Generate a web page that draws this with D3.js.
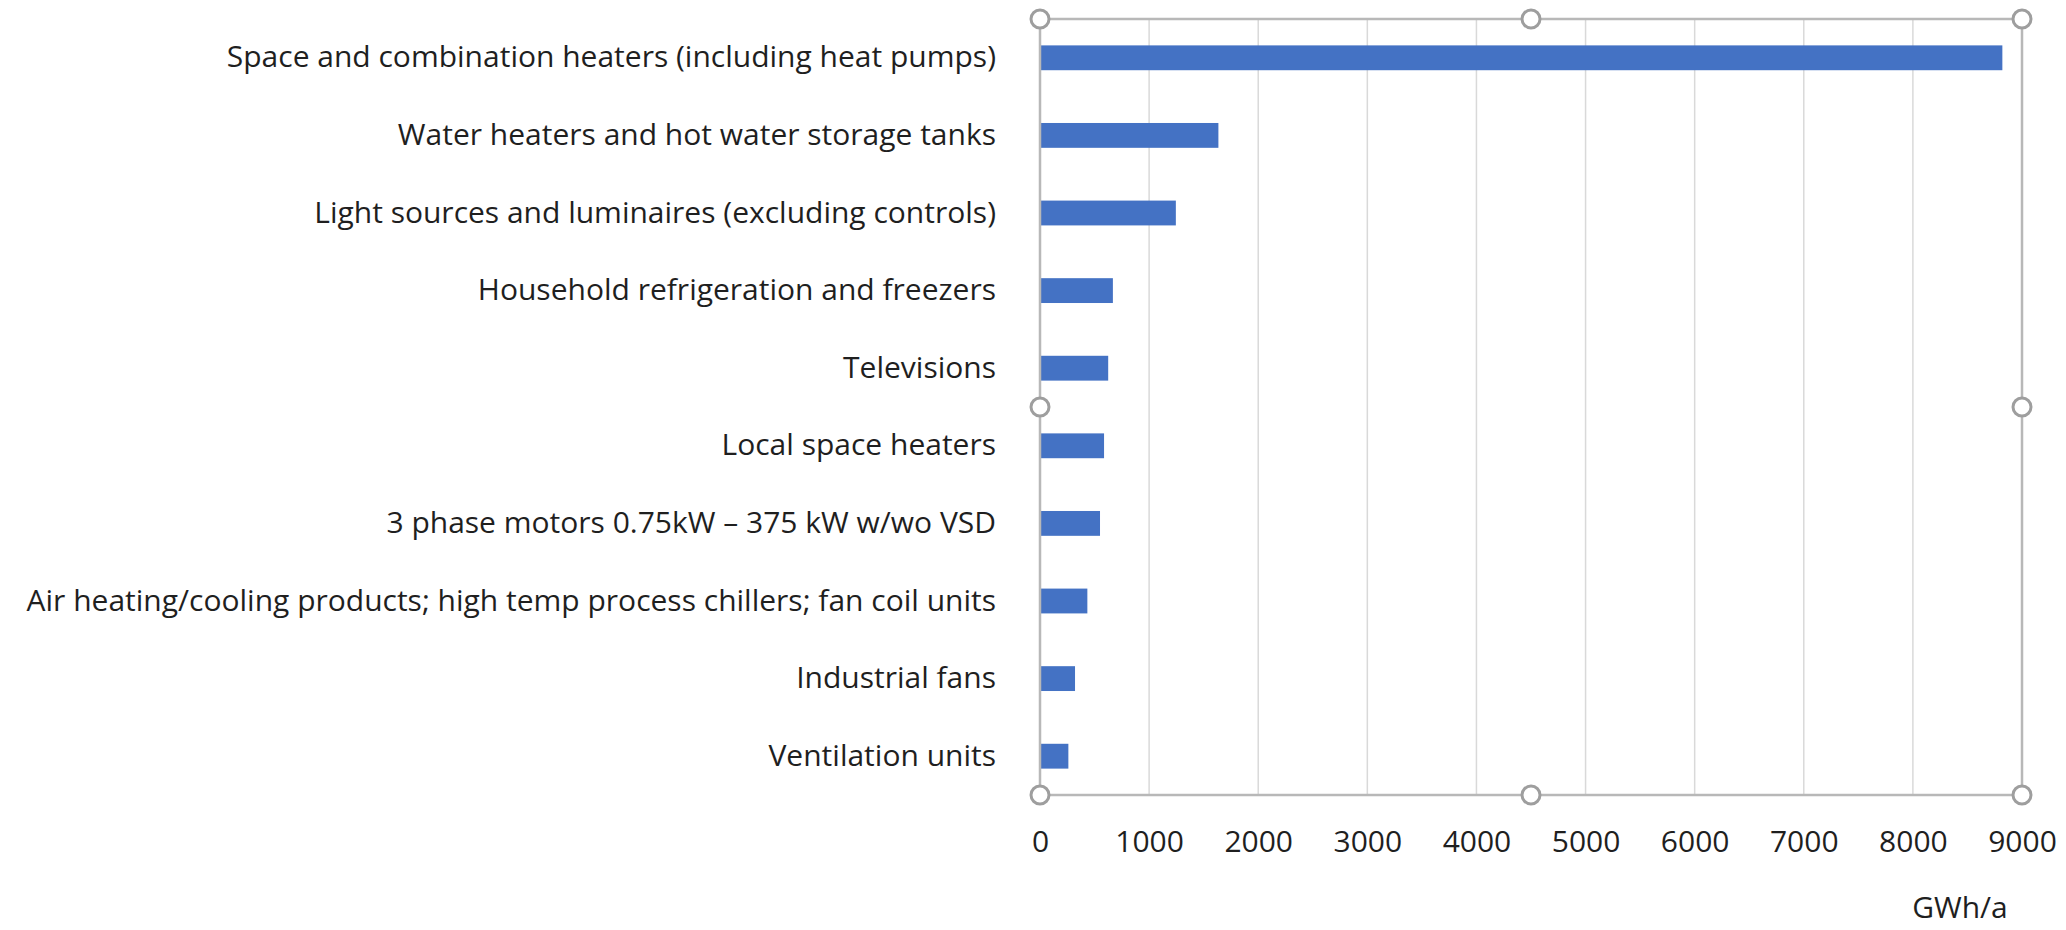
<!DOCTYPE html>
<html>
<head>
<meta charset="utf-8">
<script src="https://cdn.jsdelivr.net/npm/d3@7"></script>
<style>
  body { margin: 0; background: #fff; }
  text { font-family: 'Open Sans', Lato, sans-serif; fill: #1f1f1f; }
</style>
</head>
<body>
<div id="chart"></div>
<script>
const categories = [
  'Space and combination heaters (including heat pumps)',
  'Water heaters and hot water storage tanks',
  'Light sources and luminaires (excluding controls)',
  'Household refrigeration and freezers',
  'Televisions',
  'Local space heaters',
  '3 phase motors 0.75kW \u2013 375 kW w/wo VSD',
  'Air heating/cooling products; high temp process chillers; fan coil units',
  'Industrial fans',
  'Ventilation units'
]
const values = [8820, 1635, 1245, 668, 625, 587, 550, 434, 321, 260]
const xTicks = [0, 1000, 2000, 3000, 4000, 5000, 6000, 7000, 8000, 9000]
const unitLabel = 'GWh/a'

const width = 2066
const height = 930
const margin = { top: 19, right: 44, bottom: 135, left: 1040 }
const fontSize = '30px'

const svg = d3.select('#chart')
  .append('svg')
  .attr('width', width)
  .attr('height', height)

const x = d3.scaleLinear()
  .domain([0, 9000])
  .range([margin.left, width - margin.right])

const y = d3.scaleBand()
  .domain(categories)
  .range([margin.top, height - margin.bottom])
  .paddingInner(0.68)
  .paddingOuter(0.34)

// vertical gridlines
svg.append('g')
  .selectAll('line')
  .data(xTicks.slice(1, -1))
  .enter()
  .append('line')
  .attr('x1', d => x(d))
  .attr('x2', d => x(d))
  .attr('y1', margin.top)
  .attr('y2', height - margin.bottom)
  .attr('stroke', '#d9d9d9')
  .attr('stroke-width', 1.5)

// bars
svg.append('g')
  .selectAll('rect')
  .data(values)
  .enter()
  .append('rect')
  .attr('x', x(0))
  .attr('y', (d, i) => y(categories[i]))
  .attr('width', d => x(d) - x(0))
  .attr('height', y.bandwidth())
  .attr('fill', '#4472c4')

// category labels
const yAxis = svg.append('g')
  .attr('transform', `translate(${x(0)},0)`)
  .call(d3.axisLeft(y).tickSize(0).tickPadding(44))
yAxis.select('.domain').remove()
yAxis.selectAll('text')
  .style('font-size', fontSize)
  .style('fill', '#1f1f1f')

// value labels under the plot
const xAxis = svg.append('g')
  .attr('transform', `translate(0,${height - margin.bottom})`)
  .call(d3.axisBottom(x).tickValues(xTicks).tickFormat(d3.format('d')).tickSize(0).tickPadding(36))
xAxis.select('.domain').remove()
xAxis.selectAll('text')
  .style('font-size', fontSize)
  .style('fill', '#1f1f1f')

svg.append('text')
  .attr('x', x(9000) - 62)
  .attr('y', height - 12)
  .attr('text-anchor', 'middle')
  .style('font-size', fontSize)
  .text(unitLabel)

// selection frame with handles
const x0 = x(0)
const x1 = x(9000)
const y0 = margin.top
const y1 = height - margin.bottom
svg.append('rect')
  .attr('x', x0)
  .attr('y', y0)
  .attr('width', x1 - x0)
  .attr('height', y1 - y0)
  .attr('fill', 'none')
  .attr('stroke', '#b8b8b8')
  .attr('stroke-width', 2.5)

const handles = [
  [x0, y0], [(x0 + x1) / 2, y0], [x1, y0],
  [x0, (y0 + y1) / 2], [x1, (y0 + y1) / 2],
  [x0, y1], [(x0 + x1) / 2, y1], [x1, y1]
]
svg.append('g')
  .selectAll('circle')
  .data(handles)
  .enter()
  .append('circle')
  .attr('cx', d => d[0])
  .attr('cy', d => d[1])
  .attr('r', 9)
  .attr('fill', '#fff')
  .attr('stroke', '#9e9e9e')
  .attr('stroke-width', 3)
</script>
</body>
</html>
